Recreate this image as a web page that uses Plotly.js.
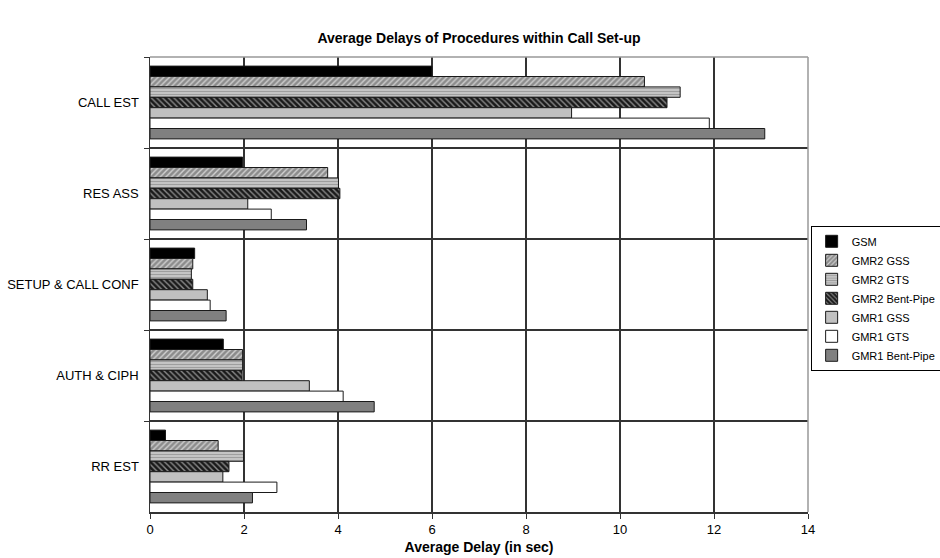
<!DOCTYPE html>
<html>
<head>
<meta charset="utf-8">
<script src="https://cdn.plot.ly/plotly-3.0.1.min.js"></script>
<style>html,body{margin:0;padding:0;background:#fff;}#chart{width:940px;height:558px;}</style>
</head>
<body>
<div id="chart"></div>
<script>
const categories = ["CALL EST", "RES ASS", "SETUP & CALL CONF", "AUTH & CIPH", "RR EST"];
const seriesNames = ["GSM", "GMR2 GSS", "GMR2 GTS", "GMR2 Bent-Pipe", "GMR1 GSS", "GMR1 GTS", "GMR1 Bent-Pipe"];
const gsm          = [6.0, 1.97, 0.95, 1.56, 0.33];
const gmr2Gss      = [10.52, 3.78, 0.91, 1.97, 1.45];
const gmr2Gts      = [11.28, 4.01, 0.88, 1.97, 1.99];
const gmr2BentPipe = [11.0, 4.04, 0.91, 1.96, 1.68];
const gmr1Gss      = [8.97, 2.08, 1.22, 3.39, 1.55];
const gmr1Gts      = [11.9, 2.58, 1.28, 4.11, 2.70];
const gmr1BentPipe = [13.08, 3.33, 1.62, 4.77, 2.18];
const xTicks = [0, 2, 4, 6, 8, 10, 12, 14];

const values = [gsm, gmr2Gss, gmr2Gts, gmr2BentPipe, gmr1Gss, gmr1Gts, gmr1BentPipe];
const styles = [
  {color: "#000000"},
  {color: "#8c8c8c", pattern: {shape: "/", bgcolor: "#8c8c8c", fgcolor: "#d0d0d0", size: 4, solidity: 0.35, fillmode: "replace"}},
  {color: "#c4c4c4", pattern: {shape: "-", bgcolor: "#c4c4c4", fgcolor: "#9a9a9a", size: 3, solidity: 0.3, fillmode: "replace"}},
  {color: "#1a1a1a", pattern: {shape: "\\", bgcolor: "#1a1a1a", fgcolor: "#8a8a8a", size: 4, solidity: 0.35, fillmode: "replace"}},
  {color: "#c0c0c0"},
  {color: "#ffffff"},
  {color: "#808080"}
];

const traces = seriesNames.map((name, i) => ({
  type: "bar",
  orientation: "h",
  name: name,
  y: categories,
  x: values[i],
  marker: Object.assign({line: {color: "#1a1a1a", width: 1}}, styles[i]),
  hoverinfo: "x+name"
}));

const font = "Liberation Sans, Arial, sans-serif";
const layout = {
  width: 940, height: 558,
  margin: {l: 150, r: 132, t: 57, b: 46, autoexpand: false},
  paper_bgcolor: "#ffffff",
  plot_bgcolor: "#ffffff",
  font: {family: font, size: 13, color: "#000"},
  title: {text: "<b>Average Delays of Procedures within Call Set-up</b>", font: {family: font, size: 14, color: "#000"}, x: 0.5, xref: "paper", y: 0.932, yref: "container", yanchor: "middle"},
  barmode: "group",
  bargap: 0.2,
  bargroupgap: 0,
  xaxis: {
    range: [0, 14],
    tickvals: xTicks,
    ticktext: xTicks.map(String),
    showgrid: true, gridcolor: "#333333", gridwidth: 1.5,
    zeroline: false,
    showline: true, linecolor: "#333333", linewidth: 1.5,
    ticks: "outside", ticklen: 5, tickcolor: "#333333",
    tickfont: {family: font, size: 13, color: "#000"},
    title: {text: "<b>Average Delay (in sec)</b>", font: {family: font, size: 14, color: "#000"}, standoff: 6}
  },
  yaxis: {
    type: "category",
    autorange: "reversed",
    tickson: "boundaries",
    showgrid: true, gridcolor: "#333333", gridwidth: 1.5,
    showline: true, linecolor: "#333333", linewidth: 1.5,
    ticks: "outside", ticklen: 5, tickcolor: "#333333",
    tickfont: {family: font, size: 13, color: "#000"},
    ticksuffix: "  "
  },
  legend: {
    x: 1.004, xanchor: "left", y: 0.629, yanchor: "top",
    bordercolor: "#000", borderwidth: 1, bgcolor: "#fff",
    font: {family: font, size: 11, color: "#000"},
    tracegroupgap: 0, itemwidth: 30
  },
  shapes: [
    {type: "line", xref: "paper", yref: "paper", x0: 0, x1: 1, y0: 1, y1: 1, line: {color: "#999999", width: 1.5}},
    {type: "line", xref: "paper", yref: "paper", x0: 1, x1: 1, y0: 0, y1: 1, line: {color: "#999999", width: 1.5}}
  ],
  showlegend: true
};

Plotly.newPlot("chart", traces, layout, {displayModeBar: false, staticPlot: true});
</script>
</body>
</html>
